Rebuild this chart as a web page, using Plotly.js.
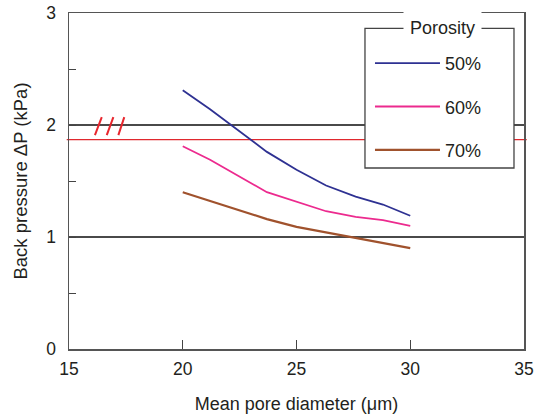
<!DOCTYPE html>
<html>
<head>
<meta charset="utf-8">
<script src="https://cdn.plot.ly/plotly-3.0.1.min.js"></script>
<style>html,body{margin:0;padding:0;background:#fff;}#chart{width:544px;height:416px;}</style>
</head>
<body>
<div id="chart"></div>
<script>
// Data
var poreDiameter = [20, 21.2, 23.7, 25, 26.3, 27.6, 28.8, 30];
var porosity50 = [2.31, 2.14, 1.76, 1.60, 1.46, 1.36, 1.29, 1.19];
var porosity60 = [1.81, 1.69, 1.40, 1.315, 1.23, 1.18, 1.15, 1.10];
var porosity70 = [1.40, 1.32, 1.16, 1.09, 1.04, 0.99, 0.945, 0.90];
var seriesNames = ['50%', '60%', '70%'];
var xTicks = [15, 20, 25, 30, 35];
var yTicks = [0, 1, 2, 3];
var redLineLevel = 1.87;

var FONT = '"Liberation Sans", Arial, Helvetica, sans-serif';
var TXT = '#231f20';

var traces = [
  {x: poreDiameter, y: porosity50, name: seriesNames[0], legendgroup: 'a', mode: 'lines',
   line: {color: '#2e3192', width: 1.8}},
  {x: poreDiameter, y: porosity60, name: seriesNames[1], legendgroup: 'b', mode: 'lines',
   line: {color: '#ec2a8e', width: 1.8}},
  {x: poreDiameter, y: porosity70, name: seriesNames[2], legendgroup: 'c', mode: 'lines',
   line: {color: '#a0522d', width: 2.2}}
];

var breakMarks = [[16.14, 16.44], [16.66, 16.95], [17.17, 17.43]].map(function (m) {
  return {type: 'line', xref: 'x', yref: 'y', x0: m[0], x1: m[1], y0: 1.91, y1: 2.07,
          line: {color: '#e8262d', width: 2}, layer: 'above'};
});

var shapes = [
  {type: 'line', xref: 'paper', yref: 'y', x0: -0.005, x1: 1.006, y0: redLineLevel, y1: redLineLevel,
   line: {color: '#e0282e', width: 1.2}, layer: 'below'},
  {type: 'rect', xref: 'paper', yref: 'paper', x0: 0.6505, x1: 0.978, y0: 0.5387, y1: 0.9545,
   fillcolor: '#ffffff', line: {color: '#444', width: 1.3}, layer: 'above'}
].concat(breakMarks);

var layout = {
  width: 544, height: 416,
  margin: {l: 69, r: 20, t: 13, b: 67},
  paper_bgcolor: '#fff', plot_bgcolor: '#fff',
  font: {family: FONT, size: 17.5, color: TXT},
  showlegend: true,
  legend: {x: 0.6615, y: 0.905, xanchor: 'left', yanchor: 'top', bgcolor: 'rgba(0,0,0,0)',
           borderwidth: 0, font: {family: FONT, size: 18, color: TXT}, tracegroupgap: 17,
           itemwidth: 65},
  xaxis: {range: [15, 35], tickvals: xTicks, ticks: 'inside', ticklen: 9, tickcolor: '#444',
          showline: true, mirror: true, linecolor: '#555', linewidth: 1.5, showgrid: false,
          zeroline: false, ticklabelstandoff: 3,
          title: {text: 'Mean pore diameter (\u03bcm)', font: {family: FONT, size: 18, color: TXT}, standoff: 20}},
  yaxis: {range: [0, 3], tickvals: yTicks, ticks: 'inside', ticklen: 7, tickcolor: '#444',
          minor: {dtick: 0.5, ticks: 'inside', ticklen: 7, tickcolor: '#444', showgrid: false},
          showline: true, mirror: true, linecolor: '#555', linewidth: 1.5,
          showgrid: true, gridcolor: '#4a4a4a', gridwidth: 1.3, zeroline: false, ticklabelstandoff: 8,
          title: {text: 'Back pressure \u0394P (kPa)', font: {family: FONT, size: 18.5, color: TXT}, standoff: 14}},
  shapes: shapes,
  annotations: [
    {text: 'Porosity', xref: 'paper', yref: 'paper', x: 0.82, y: 0.9545, xanchor: 'center', yanchor: 'middle',
     showarrow: false, bgcolor: '#ffffff', borderpad: 6, font: {family: FONT, size: 18, color: TXT}}
  ]
};

Plotly.newPlot('chart', traces, layout, {staticPlot: true, displayModeBar: false});
</script>
</body>
</html>
